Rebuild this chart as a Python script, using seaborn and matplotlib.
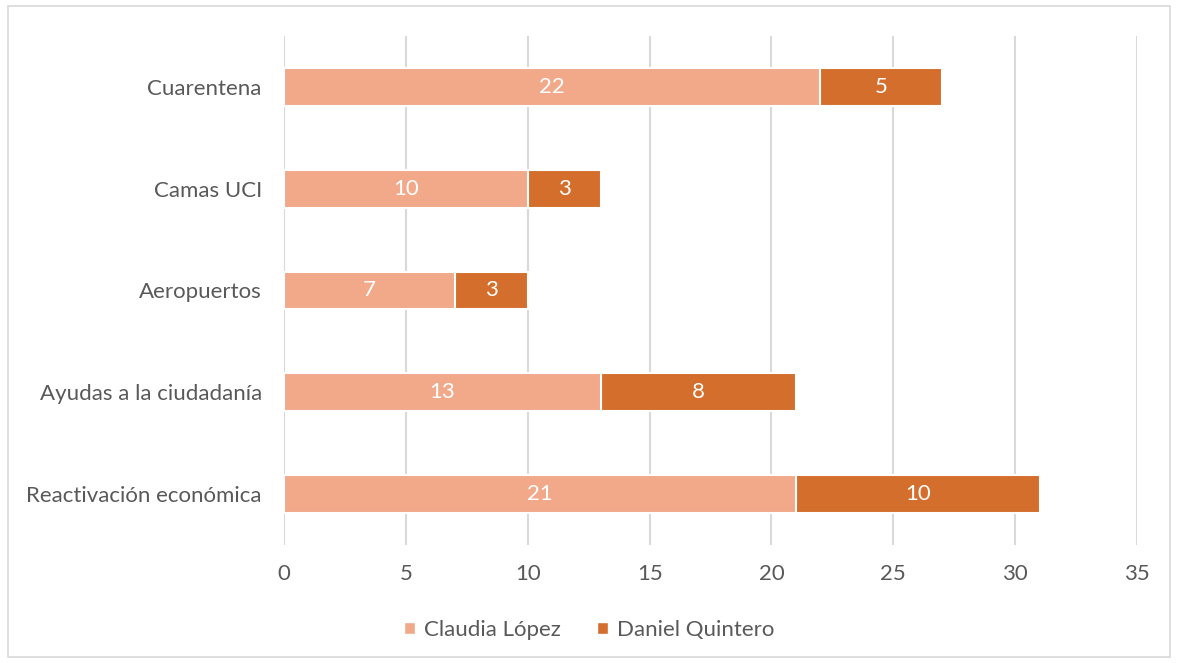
import matplotlib.pyplot as plt
import pandas as pd
import seaborn as sns
from matplotlib.patches import Rectangle, Patch

temas = ["Cuarentena", "Camas UCI", "Aeropuertos", "Ayudas a la ciudadanía", "Reactivación económica"]
claudia = [22, 10, 7, 13, 21]
daniel = [5, 3, 3, 8, 10]
series = ["Claudia López", "Daniel Quintero"]

light = "#F1A98A"
dark = "#D46E2C"
text_grey = "#595959"

df = pd.DataFrame({"tema": temas, "claudia": claudia, "daniel": daniel})
df["total"] = df["claudia"] + df["daniel"]

sns.set_style("white")
plt.rcParams["font.family"] = ["Lato", "DejaVu Sans"]
fs = 16

fig = plt.figure(figsize=(11.78, 6.63), dpi=100)
ax = fig.add_axes([0.2411, 0.178, 0.7241, 0.7677])

sns.barplot(data=df, x="total", y="tema", order=temas, color=dark, width=0.37,
            edgecolor="white", linewidth=1.5, saturation=1, ax=ax)
sns.barplot(data=df, x="claudia", y="tema", order=temas, color=light, width=0.37,
            edgecolor="white", linewidth=1.5, saturation=1, ax=ax)

ax.bar_label(ax.containers[0], labels=[str(v) for v in daniel], label_type="edge",
             padding=0, color="white", fontsize=fs)
ax.bar_label(ax.containers[1], labels=[str(v) for v in claudia], label_type="center",
             color="white", fontsize=fs)

# move Daniel labels to the center of his segment
for txt, c, d in zip(ax.texts[:len(daniel)], claudia, daniel):
    txt.set_position((0, 0))
    txt.xy = (c + d / 2, txt.xy[1])
    txt.set_ha("center")
    txt.set_va("center")

ax.set_xlim(0, 35)
ax.set_ylim(4.5, -0.5)
ax.set_xticks(range(0, 36, 5))
ax.xaxis.grid(True, color="#D9D9D9", linewidth=1.5)
ax.set_axisbelow(True)
ax.set_xlabel("")
ax.set_ylabel("")
for s in ax.spines.values():
    s.set_visible(False)
ax.tick_params(axis="both", length=0, labelsize=fs, colors=text_grey)
ax.tick_params(axis="x", pad=14)
ax.tick_params(axis="y", pad=16)

handles = [Patch(facecolor=light, label=series[0]), Patch(facecolor=dark, label=series[1])]
fig.legend(handles=handles, loc="center", bbox_to_anchor=(0.5, 0.05), ncol=2, frameon=False,
           fontsize=fs, labelcolor=text_grey, handlelength=0.5, handleheight=0.5,
           handletextpad=0.4, columnspacing=1.6)

fig.add_artist(Rectangle((8 / 1178, 6 / 663), 1162 / 1178, 651 / 663, transform=fig.transFigure,
                         fill=False, edgecolor="#D9D9D9", linewidth=1.2))

fig.savefig("out.png", dpi=100)
plt.close()
